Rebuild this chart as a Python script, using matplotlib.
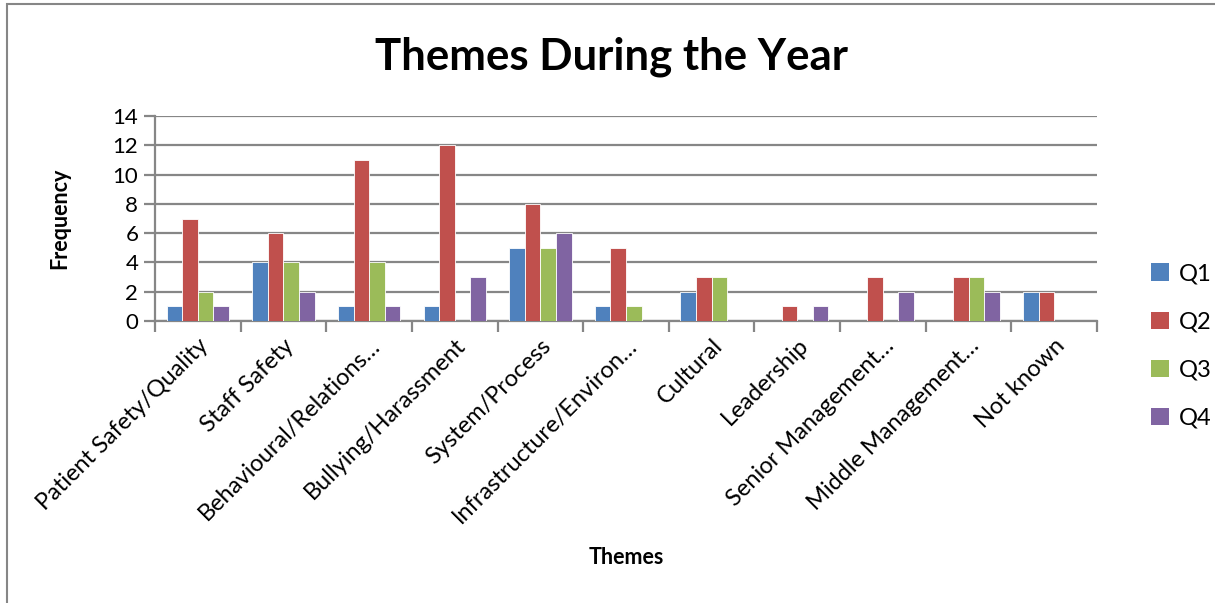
import matplotlib
matplotlib.use("Agg")
import matplotlib.pyplot as plt
from matplotlib.patches import Rectangle, Patch
import numpy as np

plt.rcParams['font.family'] = ['Lato', 'DejaVu Sans']

categories = [
    "Patient Safety/Quality", "Staff Safety", "Behavioural/Relations…",
    "Bullying/Harassment", "System/Process", "Infrastructure/Environ…",
    "Cultural", "Leadership", "Senior Management…", "Middle Management…",
    "Not known",
]
q1 = [1, 4, 1, 1, 5, 1, 2, 0, 0, 0, 2]
q2 = [7, 6, 11, 12, 8, 5, 3, 1, 3, 3, 2]
q3 = [2, 4, 4, 0, 5, 1, 3, 0, 0, 3, 0]
q4 = [1, 2, 1, 3, 6, 0, 0, 1, 2, 2, 0]
series_names = ["Q1", "Q2", "Q3", "Q4"]
series = [q1, q2, q3, q4]
colors = ["#4F81BD", "#C0504D", "#9BBB59", "#8064A2"]
y_ticks = [0, 2, 4, 6, 8, 10, 12, 14]

W, H = 1215, 603
fig = plt.figure(figsize=(W / 100, H / 100), dpi=100)

# outer chart border (left and top edges visible)
fig.patches.append(Rectangle((7 / W, -0.1), 1.2, 1 - 4 / H + 0.1,
                             transform=fig.transFigure, fill=False,
                             edgecolor="#868686", linewidth=1.5))

ax = fig.add_axes([155 / W, (H - 321) / H, (1097 - 155) / W, (321 - 116) / H])

n = len(categories)
bw = 1 / 5.5
centers = np.arange(n) + 0.5
for j, (name, vals, c) in enumerate(zip(series_names, series, colors)):
    ax.bar(centers + (j - 1.5) * bw, vals, width=bw, color=c,
           edgecolor="white", linewidth=0.6, label=name, zorder=3)

ax.set_xlim(0, n)
ax.set_ylim(0, 14)
ax.set_yticks(y_ticks)
ax.yaxis.grid(True, color="#868686", linewidth=1.6, zorder=0)
ax.set_axisbelow(True)

for s in ["top", "right"]:
    ax.spines[s].set_visible(False)
for s in ["left", "bottom"]:
    ax.spines[s].set_color("#868686")
    ax.spines[s].set_linewidth(1.6)

ax.set_xticks(np.arange(n + 1))
ax.set_xticklabels([])
ax.tick_params(axis="x", which="major", length=8, width=1.6, color="#868686")
ax.set_xticks(centers, minor=True)
ax.set_xticklabels(categories, minor=True, rotation=45, ha="right",
                   va="top", rotation_mode="anchor", fontsize=17)
ax.tick_params(axis="x", which="minor", length=0, pad=10)
ax.tick_params(axis="y", length=8, width=1.6, color="#868686",
               labelsize=16, pad=4)

fig.text(612 / W, 1 - 57 / H, "Themes During the Year", ha="center",
         va="center", fontsize=31.5, fontweight="bold")
fig.text(60 / W, 1 - 218 / H, "Frequency", ha="center", va="center",
         rotation=90, fontsize=15.5, fontweight="bold")
fig.text(626 / W, 1 - 558 / H, "Themes", ha="center", va="center",
         fontsize=15.5, fontweight="bold")

handles = [Patch(facecolor=c, edgecolor="none") for c in colors]
fig.legend(handles, series_names, loc="center left",
           bbox_to_anchor=(1130 / W, 1 - 346 / H), frameon=False,
           fontsize=17, handlelength=0.75, handleheight=0.75,
           handletextpad=0.4, labelspacing=1.15)

fig.savefig("out.png", dpi=100, facecolor="white")
